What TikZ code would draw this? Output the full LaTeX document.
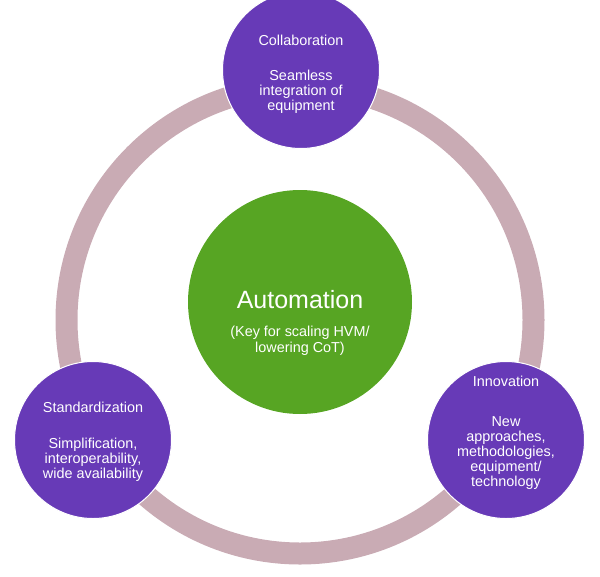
\documentclass[tikz,border=0pt]{standalone}
\usepackage{fontspec}
\setmainfont{Liberation Sans}
\usetikzlibrary{positioning}
\definecolor{ringpink}{HTML}{C9ABB4}
\definecolor{hubgreen}{HTML}{57A523}
\definecolor{petal}{HTML}{673AB7}

\begin{document}
\begin{tikzpicture}[
    x=1pt, y=-1pt,
    every node/.style={font=\fontsize{14.4}{15.2}\selectfont, text=white, align=center, inner sep=0pt},
    hub/.style={circle, fill=hubgreen, minimum size=224pt},
    petalnode/.style={circle, fill=petal, draw=white, line width=1pt, minimum size=157pt},
    ring/.style={draw=ringpink, line width=22pt},
    hubtitle/.style={font=\fontsize{25}{28}\selectfont},
    hubsub/.style={font=\fontsize{14.4}{15.5}\selectfont}
]
\useasboundingbox (0,0) rectangle (600,576);

% Outer ring
\draw[ring] (300,320) circle (233.5pt);

% Central hub
\node[hub] (auto) at (300,302) {};
\node[hubtitle] (autot) at (300,300) {Automation};
\node[hubsub] (autos) at (300,341) {(Key for scaling HVM/\\lowering CoT)};

% Petals on the ring
\node[petalnode] (collab) at (301,70)  {};
\node[petalnode] (stand)  at (93,440)  {};
\node[petalnode] (innov)  at (506,440) {};

% Petal texts
\node (collabt) at (301,40)  {Collaboration};
\node (collabb) at (301,92)  {Seamless\\integration of\\equipment};
\node (standt)  at (93,407)  {Standardization};
\node (standb)  at (93,460)  {Simplification,\\interoperability,\\wide availability};
\node (innovt)  at (506,381) {Innovation};
\node (innovb)  at (506,453) {New\\approaches,\\methodologies,\\equipment/\\technology};
\end{tikzpicture}
\end{document}
